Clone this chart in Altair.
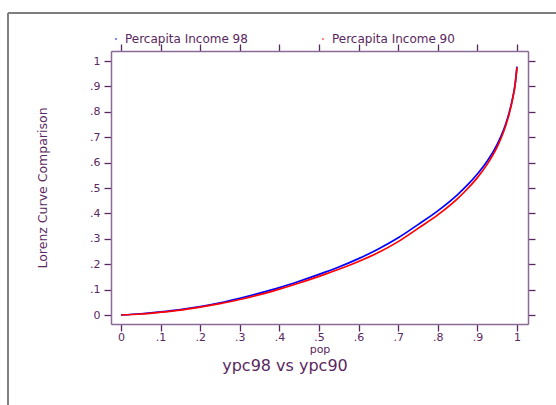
import altair as alt
import pandas as pd

# ---- data ----
pop = [0, 0.05, 0.1, 0.15, 0.2, 0.25, 0.3, 0.35, 0.4, 0.45, 0.5, 0.55, 0.6,
       0.65, 0.7, 0.75, 0.8, 0.85, 0.875, 0.9, 0.925, 0.95, 0.96, 0.97, 0.98,
       0.99, 0.995, 1.0]
income98 = [0, 0.005, 0.012, 0.021, 0.033, 0.048, 0.066, 0.086, 0.108, 0.133,
            0.160, 0.189, 0.222, 0.260, 0.304, 0.356, 0.410, 0.474, 0.512,
            0.555, 0.606, 0.672, 0.705, 0.745, 0.795, 0.862, 0.906, 0.978]
income90 = [0, 0.004, 0.011, 0.019, 0.031, 0.045, 0.061, 0.080, 0.102, 0.126,
            0.152, 0.180, 0.211, 0.246, 0.289, 0.341, 0.394, 0.458, 0.497,
            0.541, 0.594, 0.662, 0.697, 0.738, 0.790, 0.858, 0.903, 0.975]
series = ["Percapita Income 98", "Percapita Income 90"]
colors = ["#0000ff", "#ff0000"]
ticks = [0, 0.1, 0.2, 0.3, 0.4, 0.5, 0.6, 0.7, 0.8, 0.9, 1.0]
chart_title = "ypc98 vs ypc90"

rows = []
for name, vals in zip(series, [income98, income90]):
    for p, v in zip(pop, vals):
        rows.append({"pop": p, "value": v, "series": name})
df = pd.DataFrame(rows)

TEXT = "#5a2860"
DOMAIN = "#8a6a96"
TICK = "#5a2860"
FONT = "DejaVu Sans"
label_expr = ("datum.value == 0 ? '0' : (datum.value == 1 ? '1' : "
              "replace(format(datum.value, '.1f'), '0.', '.'))")

xscale = alt.Scale(domain=[-0.02525, 1.0278], nice=False, zero=False)
yscale = alt.Scale(domain=[-0.0354, 1.0394], nice=False, zero=False)

common_axis = dict(domainColor=DOMAIN, domainWidth=1.5, tickColor=TICK,
                   tickWidth=1.3, tickSize=7, grid=False, values=ticks,
                   labelColor=TEXT, labelFont=FONT, labelFontSize=11,
                   titleColor=TEXT, titleFont=FONT,
                   titleFontWeight="normal", labelExpr=label_expr)

x_bottom = alt.Axis(orient="bottom", title="pop", labelPadding=0,
                    titlePadding=1, titleFontSize=11, **common_axis)
y_left = alt.Axis(orient="left", title="Lorenz Curve Comparison",
                  labelPadding=4, titlePadding=40, titleFontSize=12.5,
                  **common_axis)
x_top = alt.Axis(orient="top", title=None, labels=False, **common_axis)
y_right = alt.Axis(orient="right", title=None, labels=False, **common_axis)

color = alt.Color("series:N",
                  scale=alt.Scale(domain=series, range=colors),
                  legend=alt.Legend(title=None, orient="none", direction="horizontal",
                                    legendX=-1, legendY=-18, symbolType="circle",
                                    symbolSize=2, symbolStrokeWidth=1,
                                    symbolOpacity=0.6,
                                    labelFont=FONT, labelFontSize=12,
                                    labelColor=TEXT, labelOffset=3,
                                    columnPadding=69, padding=0))

base = alt.Chart(df)
blue = base.transform_filter(alt.datum.series == series[0]).mark_line(
    strokeWidth=1.7, interpolate="monotone").encode(
    x=alt.X("pop:Q", scale=xscale, axis=x_bottom),
    y=alt.Y("value:Q", scale=yscale, axis=y_left),
    color=color)
red = base.transform_filter(alt.datum.series == series[1]).mark_line(
    strokeWidth=1.7, interpolate="monotone").encode(
    x=alt.X("pop:Q", scale=xscale, axis=x_top),
    y=alt.Y("value:Q", scale=yscale, axis=y_right),
    color=color)

one = alt.Data(values=[{"t": chart_title}])
frame_top = alt.Chart(one).mark_rule(color="#000000", strokeWidth=1.2).encode(
    x=alt.value(-103), x2=alt.value(460), y=alt.value(-38))
frame_left = alt.Chart(one).mark_rule(color="#808080", strokeWidth=2).encode(
    x=alt.value(-103), y=alt.value(-38), y2=alt.value(360))
title = alt.Chart(one).mark_text(font=FONT, fontSize=16, color=TEXT,
                                 align="center", baseline="middle").encode(
    text="t:N", x=alt.value(174), y=alt.value(315))

chart = alt.layer(blue, red, frame_top, frame_left, title).resolve_axis(
    x="independent", y="independent"
).properties(
    width=417, height=273,
    autosize=alt.AutoSizeParams(type="none"),
    padding={"left": 111, "top": 51, "right": 28, "bottom": 81},
).configure_view(stroke=None).configure(background="white")

chart.save("out.html", embed_options={"renderer": "svg", "actions": False})
